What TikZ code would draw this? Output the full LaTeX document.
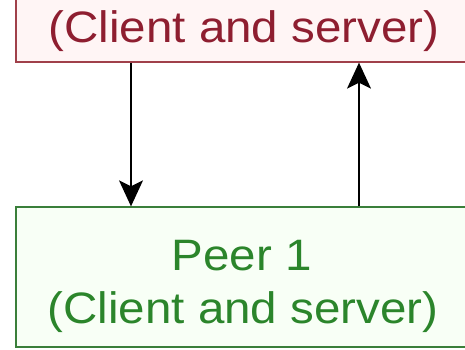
\documentclass[tikz,border=0pt]{standalone}
\usepackage{fontspec}
\setmainfont{Liberation Sans}
\usetikzlibrary{arrows.meta}
\definecolor{redstroke}{HTML}{A0404A}
\definecolor{redtext}{HTML}{8E1E30}
\definecolor{redfill}{HTML}{FFF5F5}
\definecolor{greenstroke}{HTML}{3A7F3A}
\definecolor{greentext}{HTML}{2B852B}
\definecolor{greenfill}{HTML}{F8FFF6}
\tikzset{
  box/.style={rectangle, line width=1.3pt, inner sep=0pt},
  redbox/.style={box, draw=redstroke, fill=redfill},
  greenbox/.style={box, draw=greenstroke, fill=greenfill},
  lbl/.style={anchor=base, inner sep=0pt, font=\fontsize{44}{53}\selectfont},
  arr/.style={line width=1.4pt, -{Stealth[length=26pt,width=24pt,inset=6pt]}}
}
\newcommand{\wide}[1]{\scalebox{1.08}[1]{#1}}
\begin{document}
\begin{tikzpicture}[x=1pt,y=-1pt]
\useasboundingbox (0,0) rectangle (465,350);
\clip (0,0) rectangle (465,350);
\fill[white] (0,0) rectangle (465,350);
\node[redbox, minimum width=455pt, minimum height=92pt] (top) at (243.5,16) {};
\node[greenbox, minimum width=455pt, minimum height=140pt] (bot) at (243.5,277) {};
\node[lbl, text=redtext] (t1) at (244,43) {\wide{(Client and server)}};
\node[lbl, text=greentext] (b1) at (241.5,270) {\wide{Peer 1}};
\node[lbl, text=greentext] (b2) at (243,323) {\wide{(Client and server)}};
\coordinate (xa) at (131,0);
\coordinate (xb) at (359,0);
\draw[arr] (top.south -| xa) -- (bot.north -| xa);
\draw[arr] (bot.north -| xb) -- (top.south -| xb);
\end{tikzpicture}
\end{document}
